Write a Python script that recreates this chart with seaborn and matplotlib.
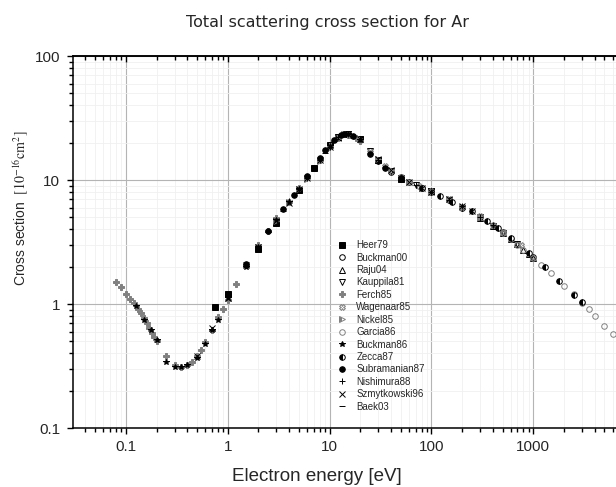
import seaborn as sns
import matplotlib.pyplot as plt
import matplotlib.ticker as ticker

heer79_e = [0.75, 1.0, 2.0, 3.0, 5.0, 7.0, 10, 12, 15, 20, 30, 50, 100]
heer79_cs = [0.95, 1.2, 2.8, 4.5, 8.3, 12.5, 19.3, 22.4, 23.5, 21.5, 14.5, 10.2, 8.2]

buckman00_e = [20, 30, 40, 50, 60, 80, 100, 150, 200, 300, 500, 1000]
buckman00_cs = [21.0, 14.2, 11.7, 10.5, 9.6, 8.7, 8.0, 6.9, 6.0, 5.0, 3.8, 2.4]

raju04_e = [300, 400, 500, 600, 700, 800, 900, 1000]
raju04_cs = [4.95, 4.25, 3.75, 3.35, 3.05, 2.75, 2.55, 2.35]

kauppila81_e = [15, 20, 25, 30, 40, 50, 70, 100, 150, 200, 300, 400, 500, 700]
kauppila81_cs = [23.0, 21.2, 17.0, 14.3, 11.9, 10.4, 9.2, 8.1, 6.9, 6.0, 5.0, 4.25, 3.75, 3.05]

ferch85_e = [0.08, 0.09, 0.10, 0.11, 0.12, 0.13, 0.14, 0.15, 0.16, 0.17, 0.18, 0.19,
             0.20, 0.25, 0.30, 0.35, 0.40, 0.45, 0.50, 0.55, 0.60, 0.70, 0.80, 0.90,
             1.0, 1.2, 1.5, 2.0, 2.5, 3.0, 4.0, 5.0, 6.0, 8.0, 10, 12, 14, 16, 18, 20]
ferch85_cs = [1.50, 1.37, 1.21, 1.09, 1.02, 0.92, 0.84, 0.77, 0.70, 0.64, 0.58, 0.54,
              0.50, 0.38, 0.32, 0.31, 0.32, 0.34, 0.38, 0.43, 0.49, 0.62, 0.78, 0.92,
              1.08, 1.45, 2.05, 3.0, 3.9, 4.9, 6.7, 8.6, 10.6, 14.6, 18.7, 22.0, 23.4, 23.2, 22.0, 20.8]

wagenaar85_e = [25, 35, 50, 75, 100, 150, 200, 300, 500, 750]
wagenaar85_cs = [16.8, 12.9, 10.5, 9.0, 8.2, 7.0, 6.1, 5.1, 3.8, 3.0]

nickel85_e = [3, 4, 5, 6, 8, 10, 12, 14, 16, 20, 30, 40, 60, 80, 100, 150, 200, 300]
nickel85_cs = [4.7, 6.6, 8.4, 10.2, 14.2, 18.2, 21.8, 23.5, 23.0, 21.3, 14.8, 12.0, 9.7, 8.7, 8.0, 7.0, 6.1, 5.0]

garcia86_e = [400, 500, 600, 700, 800, 1000, 1200, 1500, 2000, 2500, 3000, 3500, 4000, 5000, 6000]
garcia86_cs = [4.3, 3.75, 3.32, 3.0, 2.75, 2.36, 2.07, 1.77, 1.39, 1.20, 1.02, 0.91, 0.80, 0.67, 0.57]

buckman86_e = [0.125, 0.15, 0.175, 0.20, 0.25, 0.30, 0.35, 0.40, 0.50, 0.60, 0.70, 0.80,
               1.0, 1.5, 2.0, 3.0, 4.0, 5.0, 7.0, 10, 15, 20]
buckman86_cs = [0.97, 0.74, 0.62, 0.51, 0.34, 0.31, 0.31, 0.32, 0.37, 0.48, 0.62, 0.75,
                1.12, 2.0, 2.9, 4.8, 6.6, 8.4, 12.6, 18.9, 23.6, 21.0]

zecca87_e = [80, 120, 160, 250, 350, 450, 600, 900, 1300, 1800, 2500, 3000]
zecca87_cs = [8.6, 7.5, 6.7, 5.6, 4.7, 4.1, 3.4, 2.6, 1.98, 1.53, 1.18, 1.04]

subramanian87_e = [1.0, 1.5, 2.5, 3.5, 4.5, 6.0, 8.0, 9.0, 11, 13, 14, 17, 25, 35, 50]
subramanian87_cs = [1.18, 2.1, 3.9, 5.8, 7.6, 10.8, 15.0, 17.4, 21.2, 23.2, 23.7, 22.5, 16.2, 12.6, 10.3]

nishimura88_e = [4, 5, 6, 8, 10, 12, 15, 20, 30, 50, 70, 100, 150, 200, 300, 400]
nishimura88_cs = [6.8, 8.5, 10.4, 14.4, 18.6, 22.3, 23.6, 21.5, 14.6, 10.3, 9.1, 8.0, 6.9, 6.2, 5.0, 4.3]

szmytkowski96_e = [0.5, 0.7, 1.0, 1.5, 2.0, 3, 4, 5, 6, 8, 10, 12, 15, 20, 30, 40, 60, 80, 100, 150, 200, 250]
szmytkowski96_cs = [0.38, 0.64, 1.12, 2.05, 2.9, 4.7, 6.5, 8.4, 10.3, 14.4, 18.4, 22.0, 23.3, 21.6,
                    14.7, 12.1, 9.6, 8.6, 8.0, 7.0, 6.2, 5.6]

baek03_e = [1.5, 2.5, 3.5, 5, 7, 9, 11]
baek03_cs = [2.0, 3.8, 5.6, 8.5, 12.4, 16.5, 20.5]

gray = "#808080"
datasets = [
    ("Heer79", heer79_e, heer79_cs, dict(marker="s", mfc="black", mec="black")),
    ("Buckman00", buckman00_e, buckman00_cs, dict(marker="o", mfc="none", mec="black")),
    ("Raju04", raju04_e, raju04_cs, dict(marker="^", mfc="none", mec="black")),
    ("Kauppila81", kauppila81_e, kauppila81_cs, dict(marker="v", mfc="none", mec="black")),
    ("Ferch85", ferch85_e, ferch85_cs, dict(marker="P", mfc=gray, mec=gray)),
    ("Wagenaar85", wagenaar85_e, wagenaar85_cs, dict(marker="X", mfc="none", mec=gray)),
    ("Nickel85", nickel85_e, nickel85_cs, dict(marker=">", mfc=gray, mec=gray, fillstyle="left",
                                               markerfacecoloralt="white")),
    ("Garcia86", garcia86_e, garcia86_cs, dict(marker="o", mfc="none", mec=gray)),
    ("Buckman86", buckman86_e, buckman86_cs, dict(marker="*", mfc="black", mec="black")),
    ("Zecca87", zecca87_e, zecca87_cs, dict(marker="o", mfc="black", mec="black", fillstyle="left",
                                            markerfacecoloralt="white")),
    ("Subramanian87", subramanian87_e, subramanian87_cs, dict(marker="o", mfc="black", mec="black")),
    ("Nishimura88", nishimura88_e, nishimura88_cs, dict(marker="+", mfc="none", mec="black")),
    ("Szmytkowski96", szmytkowski96_e, szmytkowski96_cs, dict(marker="x", mfc="none", mec="black")),
    ("Baek03", baek03_e, baek03_cs, dict(marker="_", mfc="none", mec="black")),
]

sns.set_style("white")
plt.rcParams["font.family"] = ["Liberation Sans", "DejaVu Sans"]
plt.rcParams["mathtext.fontset"] = "stix"

fig = plt.figure(figsize=(6.16, 4.87), dpi=100)
ax = fig.add_axes([0.119, 0.121, 0.912, 0.764])
ax.set_xscale("log")
ax.set_yscale("log")

for name, e, cs, style in datasets:
    sns.lineplot(x=e, y=cs, ax=ax, label=name, linestyle="", estimator=None, sort=False,
                 markersize=4.0, mew=0.7, **style)

ax.set_xlim(0.0304, 10000)
ax.set_ylim(0.1, 100)

# grid: strong major lines, faint minor lines
ax.grid(which="major", color="#b4b4b4", lw=0.8)
ax.grid(which="minor", color="#f0f0f0", lw=0.6)
ax.set_axisbelow(True)

# the 10000 label falls outside the visible area in the reference
fmt = ticker.FuncFormatter(lambda v, pos: f"{v:g}" if v < 5000 else "")
ax.xaxis.set_major_locator(ticker.LogLocator(base=10))
ax.yaxis.set_major_locator(ticker.LogLocator(base=10))
ax.xaxis.set_major_formatter(fmt)
ax.yaxis.set_major_formatter(fmt)
ax.xaxis.set_minor_formatter(ticker.NullFormatter())
ax.yaxis.set_minor_formatter(ticker.NullFormatter())

ax.tick_params(which="both", direction="out", color="black", width=1.0)
ax.tick_params(which="major", length=4.5, labelsize=11)
ax.tick_params(axis="x", which="major", pad=4)
ax.tick_params(axis="y", which="major", pad=5)
ax.tick_params(which="minor", length=3)
ax.xaxis.set_ticks_position("bottom")
ax.yaxis.set_ticks_position("left")

# top axis: inward ticks, no labels
top = ax.twiny()
top.set_xscale("log")
top.set_xlim(ax.get_xlim())
top.xaxis.set_major_locator(ticker.LogLocator(base=10))
top.xaxis.set_minor_locator(ticker.LogLocator(base=10, subs=range(2, 10)))
top.xaxis.set_minor_formatter(ticker.NullFormatter())
top.tick_params(which="both", direction="in", labeltop=False, width=1.0, color="black",
                top=True, bottom=False)
top.tick_params(which="major", length=4.5)
top.tick_params(which="minor", length=3)
for side in ["left", "bottom", "right"]:
    top.spines[side].set_visible(False)
top.spines["top"].set_color("black")
top.spines["top"].set_linewidth(1.1)

for side in ["left", "bottom", "top"]:
    ax.spines[side].set_color("black")
    ax.spines[side].set_linewidth(1.1)

ax.set_xlabel("Electron energy [eV]", fontsize=13.5)
ax.xaxis.set_label_coords(0.434, -0.1075)
ax.set_ylabel(r"Cross section  $[10^{-16}\mathrm{cm}^{2}]$", fontsize=10)
ax.yaxis.set_label_coords(-0.075, 0.59)

fig.text(0.532, 0.953, "Total scattering cross section for Ar", ha="center", va="center",
         fontsize=11.5, family="DejaVu Sans")

ax.legend(loc="upper left", bbox_to_anchor=(0.547, 0.507), bbox_transform=fig.transFigure,
          frameon=False, fontsize=7, handlelength=1.0, handletextpad=1.0, labelspacing=0.25,
          borderpad=0, borderaxespad=0)

plt.savefig("out.png", dpi=100)
